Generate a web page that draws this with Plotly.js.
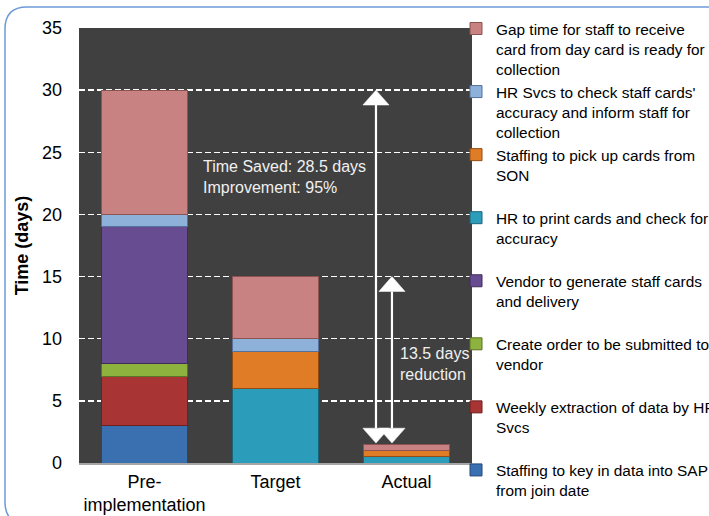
<!DOCTYPE html>
<html>
<head>
<meta charset="utf-8">
<script src="https://cdn.plot.ly/plotly-3.0.1.min.js"></script>
<style>html,body{margin:0;padding:0;background:#fff;}#chart{width:709px;height:516px;}</style>
</head>
<body>
<div id="chart"></div>
<script>
// ---- data ----
const categories = ['Pre-<br>implementation', 'Target', 'Actual'];
const seriesNames = [
  'Staffing to key in data into SAP<br>from join date',
  'Weekly extraction of data by HR<br>Svcs',
  'Create order to be submitted to<br>vendor',
  'Vendor to generate staff cards<br>and delivery',
  'HR to print cards and check for<br>accuracy',
  'Staffing to pick up cards from<br>SON',
  "HR Svcs to check staff cards'<br>accuracy and inform staff for<br>collection",
  'Gap time for staff to receive<br>card from day card is ready for<br>collection'
];
const keyInSAP      = [3, 0, 0];
const weeklyExtract = [4, 0, 0];
const createOrder   = [1, 0, 0];
const vendorGen     = [11, 0, 0];
const hrPrint       = [0, 6, 0.5];
const pickUp        = [0, 3, 0.5];
const hrCheck       = [1, 1, 0];
const gapTime       = [10, 5, 0.5];
const seriesValues = [keyInSAP, weeklyExtract, createOrder, vendorGen, hrPrint, pickUp, hrCheck, gapTime];

// arrows: x position (category units), top and bottom values
const arrowX      = [1.767, 1.889];
const arrowTop    = [30, 15];
const arrowBottom = [1.6, 1.6];
// ---- end data ----

const fillColors = ['#3a6fb0', '#a83434', '#8db23e', '#684c92', '#2b9dbb', '#e07c25', '#8eb1d9', '#c98282'];
const lineColors = ['#24487a', '#6e1f1f', '#5a7325', '#3f2c5a', '#1b6478', '#8f4c14', '#55719a', '#8c5353'];

function pad3(name) {
  const n = name.split('<br>').length;
  return n < 3 ? name + '<br>\u00a0' : name;
}

const traces = seriesValues.map((vals, i) => ({
  type: 'bar',
  name: pad3(seriesNames[i]),
  x: categories,
  y: vals,
  marker: { color: fillColors[i], line: { color: lineColors[i], width: 1 } },
  hoverinfo: 'skip'
}));

// pixel helpers for decorative frame
const L = 79, R = 472, T = 28, B = 463;
const px = v => (v - L) / (R - L);
const py = v => (B - v) / (B - T);

const shapes = [];
// rounded frame
const fx0 = 5, fy0 = 7, fx1 = 720, fy1 = 524, rr = 22;
shapes.push({
  type: 'path', xref: 'paper', yref: 'paper', layer: 'above',
  path: `M ${px(fx0)},${py(fy0 + rr)} Q ${px(fx0)},${py(fy0)} ${px(fx0 + rr)},${py(fy0)} L ${px(fx1)},${py(fy0)} L ${px(fx1)},${py(fy1)} L ${px(fx0 + rr)},${py(fy1)} Q ${px(fx0)},${py(fy1)} ${px(fx0)},${py(fy1 - rr)} Z`,
  line: { color: '#6c9bd9', width: 1.5 }, fillcolor: 'rgba(0,0,0,0)'
});

// double arrows
const headHalfW = 0.1, headH = 1.2;
arrowX.forEach((ax, i) => {
  const t = arrowTop[i], b = arrowBottom[i];
  shapes.push({ type: 'line', xref: 'x', yref: 'y', x0: ax, x1: ax, y0: b + headH, y1: t - headH,
    line: { color: '#ffffff', width: 2.2 }, layer: 'above' });
  shapes.push({ type: 'path', xref: 'x', yref: 'y', layer: 'above',
    path: `M ${ax},${t} L ${ax - headHalfW},${t - headH} L ${ax + headHalfW},${t - headH} Z`,
    fillcolor: '#ffffff', line: { color: '#ffffff', width: 0.5 } });
  shapes.push({ type: 'path', xref: 'x', yref: 'y', layer: 'above',
    path: `M ${ax},${b} L ${ax - headHalfW},${b + headH} L ${ax + headHalfW},${b + headH} Z`,
    fillcolor: '#ffffff', line: { color: '#ffffff', width: 0.5 } });
});

const layout = {
  width: 709, height: 516,
  margin: { l: L, r: 709 - R, t: T, b: 516 - B, autoexpand: false },
  paper_bgcolor: '#ffffff',
  plot_bgcolor: '#404040',
  barmode: 'stack',
  bargap: 0.35,
  font: { family: 'Liberation Sans, Arial, sans-serif', color: '#000000' },
  showlegend: true,
  legend: {
    x: px(456), xanchor: 'left', y: py(12), yanchor: 'top',
    traceorder: 'reversed', valign: 'top', maxheight: 600,
    font: { size: 15.4, color: '#000000' },
    bgcolor: 'rgba(0,0,0,0)', borderwidth: 0
  },
  xaxis: {
    type: 'category',
    showgrid: false, zeroline: false,
    showline: true, linecolor: '#a6a6a6', linewidth: 2,
    tickfont: { size: 18, color: '#000000' },
    ticks: '', ticklabelstandoff: 1, fixedrange: true
  },
  yaxis: {
    range: [0, 35], dtick: 5, tick0: 0,
    showgrid: true, gridcolor: '#ffffff', gridwidth: 1.5, griddash: '6px,3px',
    zeroline: false, showline: false,
    tickfont: { size: 18, color: '#000000' },
    ticks: '', ticklabelstandoff: 16,
    title: { text: '<b>Time (days)</b>', font: { size: 18, color: '#000000' }, standoff: 8 },
    fixedrange: true
  },
  shapes: shapes,
  annotations: [
    { xref: 'x', yref: 'y', x: 0.431, y: 23.0, xanchor: 'left', yanchor: 'middle', align: 'left',
      text: 'Time Saved: 28.5 days<br>Improvement: 95%', showarrow: false,
      font: { size: 16, color: '#f0f0f0' } },
    { xref: 'x', yref: 'y', x: 1.935, y: 8.0, xanchor: 'left', yanchor: 'middle', align: 'left',
      text: '13.5 days<br>reduction', showarrow: false,
      font: { size: 16, color: '#f0f0f0' } }
  ]
};

Plotly.newPlot('chart', traces, layout, { displayModeBar: false, staticPlot: true });
</script>
</body>
</html>
